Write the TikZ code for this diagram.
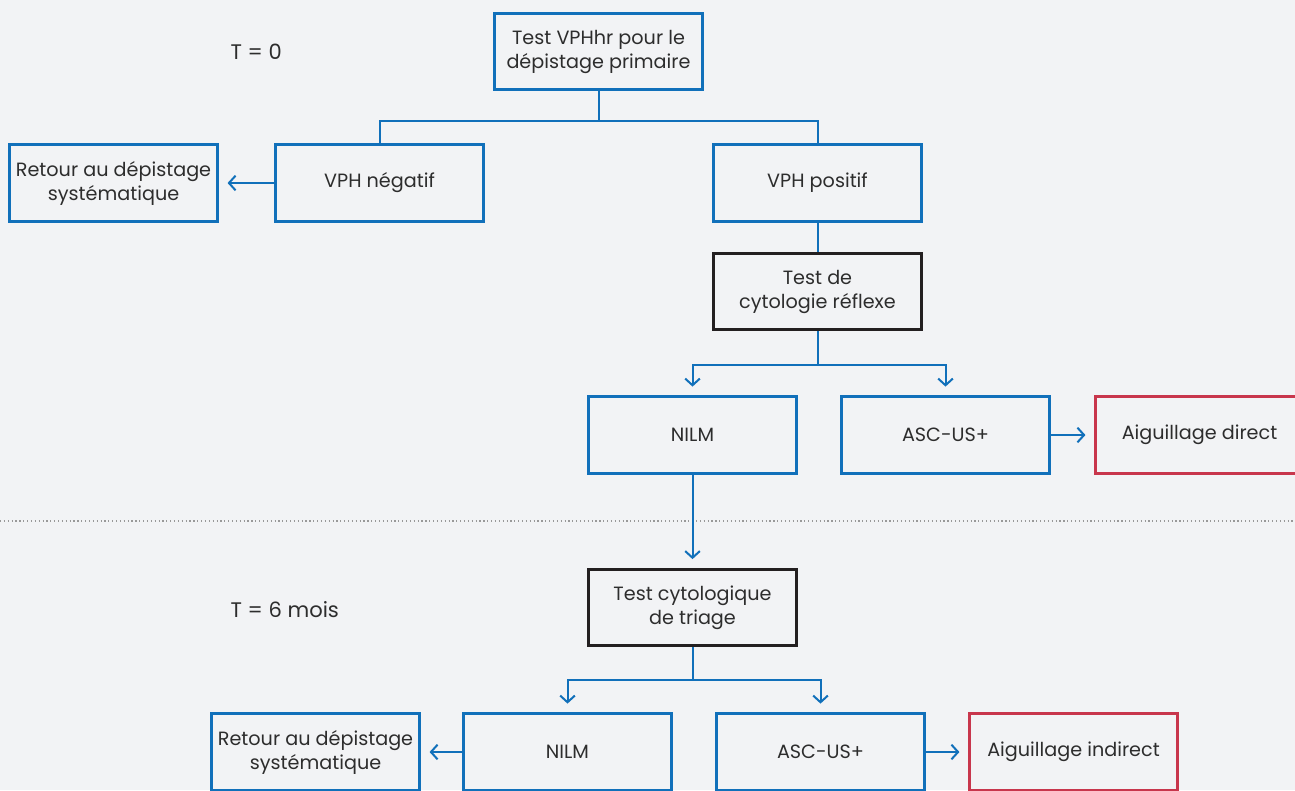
\documentclass[tikz,border=0pt]{standalone}
\usepackage{fontspec}
\setmainfont{Poppins}
\usepackage{tikz}
\usetikzlibrary{arrows.meta}
\usepackage{xcolor}
\definecolor{background}{HTML}{F2F3F5}
\definecolor{bleu}{HTML}{1170BA}
\definecolor{rouge}{HTML}{C8364C}
\definecolor{encre}{HTML}{231F20}
\definecolor{texte}{HTML}{2D2D2D}

\begin{document}
\begin{tikzpicture}[x=0.75pt, y=-0.75pt,
        box/.style={draw=bleu, line width=2.1pt, fill=background, minimum width=156pt, minimum height=57.5pt,
            align=center, text=texte, font=\fontsize{14.4}{18}\selectfont},
        blackbox/.style={box, draw=encre},
        redbox/.style={box, draw=rouge},
        link/.style={draw=bleu, line width=1.5pt},
        arrow/.style={link, -{Straight Barb[length=5pt, width=11pt, line width=1.5pt]}, shorten >=6.5pt},
        label/.style={anchor=west, text=texte, font=\fontsize{15.8}{18}\selectfont}]
       \fill[background] (0, 0) rectangle (1295, 790);
       \useasboundingbox (0, 0) rectangle (1295, 790);

       \draw[gray!80, line width=0.9pt, dotted] (0, 521) -- (1295, 521);

       \node[label] (t0) at (226, 52) {T = 0};
       \node[label] (t6) at (226, 610) {T = 6 mois};

       \node[box] (test) at (598.5, 51.5) {Test VPHhr pour le\\dépistage primaire};
       \node[box] (neg) at (379.5, 183) {VPH négatif};
       \node[box] (retour1) at (113.5, 183) {Retour au dépistage\\systématique};
       \node[box] (pos) at (817.5, 183) {VPH positif};
       \node[blackbox] (reflexe) at (817.5, 291.5) {Test de\\cytologie réflexe};
       \node[box] (nilm1) at (692.5, 435) {NILM};
       \node[box] (asc1) at (945.5, 435) {ASC-US+};
       \node[redbox] (direct) at (1199.5, 435) {Aiguillage direct};

       \node[blackbox] (triage) at (692.5, 607.5) {Test cytologique\\de triage};
       \node[box] (retour2) at (315.5, 752) {Retour au dépistage\\systématique};
       \node[box] (nilm2) at (567.5, 752) {NILM};
       \node[box] (asc2) at (820.5, 752) {ASC-US+};
       \node[redbox] (indirect) at (1073.5, 752) {Aiguillage indirect};

       \draw[link] (test.south) -- ++(0, 30) -| (neg.north);
       \draw[link] (test.south) -- ++(0, 30) -| (pos.north);
       \draw[arrow] (neg) -- (retour1);
       \draw[link] (pos) -- (reflexe);
       \draw[arrow] (reflexe.south) -- ++(0, 34) -| (nilm1.north);
       \draw[arrow] (reflexe.south) -- ++(0, 34) -| (asc1.north);
       \draw[arrow] (asc1) -- (direct);
       \draw[arrow] (nilm1) -- (triage);
       \draw[arrow] (triage.south) -- ++(0, 33) -| (nilm2.north);
       \draw[arrow] (triage.south) -- ++(0, 33) -| (asc2.north);
       \draw[arrow] (nilm2) -- (retour2);
       \draw[arrow] (asc2) -- (indirect);
\end{tikzpicture}
\end{document}
